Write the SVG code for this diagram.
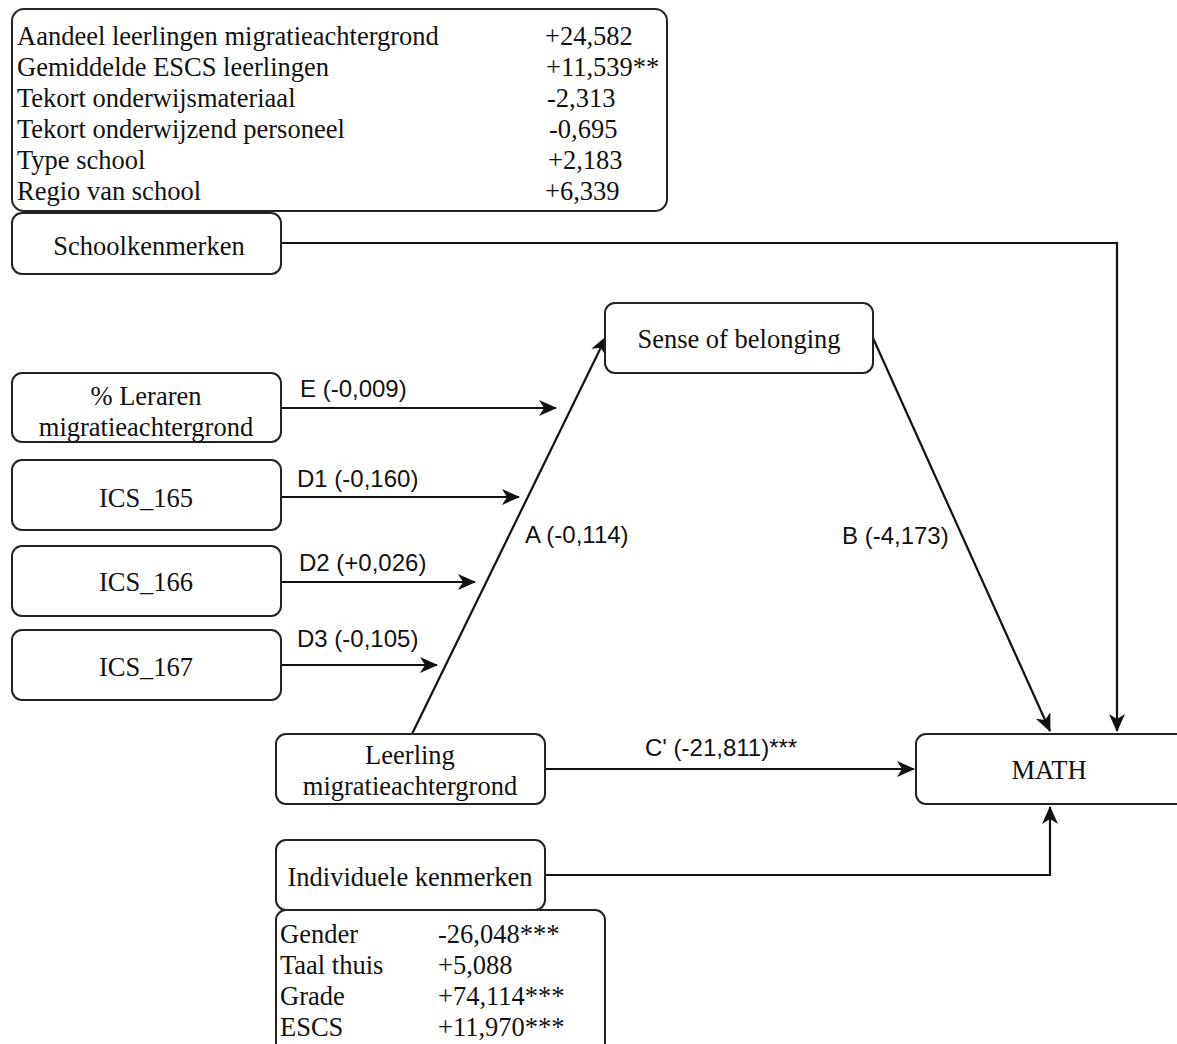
<svg xmlns="http://www.w3.org/2000/svg" width="1177" height="1044" viewBox="0 0 1177 1044">
<style>
.box{fill:#fff;stroke:#222;stroke-width:2}
.s{font-family:"Liberation Serif","Times New Roman",serif;font-size:26.5px;fill:#111}
.c{text-anchor:middle}
.l{font-family:"Liberation Sans",Arial,sans-serif;font-size:24px;fill:#111}
.e{fill:none;stroke:#111;stroke-width:2.2}
</style>
<defs>
<marker id="ah" markerUnits="userSpaceOnUse" markerWidth="22" markerHeight="20" refX="17" refY="8" orient="auto">
<path d="M0,0 L18,8 L0,16 L5,8 z" fill="#111"/>
</marker>
</defs>
<rect width="1177" height="1044" fill="#fff"/>
<g id="connectors">
<path class="e" d="M281,243 H1117 V731" marker-end="url(#ah)"/>
<path class="e" d="M281,408 H556" marker-end="url(#ah)"/>
<path class="e" d="M281,497 H519" marker-end="url(#ah)"/>
<path class="e" d="M281,582 H475" marker-end="url(#ah)"/>
<path class="e" d="M281,665 H437" marker-end="url(#ah)"/>
<path class="e" d="M412,734 L606,337" marker-end="url(#ah)"/>
<path class="e" d="M873,338 L1050,731" marker-end="url(#ah)"/>
<path class="e" d="M545,769 H914" marker-end="url(#ah)"/>
<path class="e" d="M545,875 H1050 V807" marker-end="url(#ah)"/>
<text class="l" x="300" y="397">E (-0,009)</text>
<text class="l" x="297" y="487">D1 (-0,160)</text>
<text class="l" x="299" y="571">D2 (+0,026)</text>
<text class="l" x="297" y="647">D3 (-0,105)</text>
<text class="l" x="525" y="543">A (-0,114)</text>
<text class="l" x="842" y="544">B (-4,173)</text>
<text class="l" x="645" y="756">C' (-21,811)***</text>
</g>
<g id="schoolvars">
<rect class="box" x="12" y="9" width="655" height="202" rx="12"/>
<text class="s" x="17" y="45">Aandeel leerlingen migratieachtergrond</text>
<text class="s" x="17" y="76">Gemiddelde ESCS leerlingen</text>
<text class="s" x="17" y="107">Tekort onderwijsmateriaal</text>
<text class="s" x="17" y="138">Tekort onderwijzend personeel</text>
<text class="s" x="17" y="169">Type school</text>
<text class="s" x="17" y="200">Regio van school</text>
<text class="s" x="545" y="45">+24,582</text>
<text class="s" x="546" y="76">+11,539**</text>
<text class="s" x="547" y="107">-2,313</text>
<text class="s" x="549" y="138">-0,695</text>
<text class="s" x="548" y="169">+2,183</text>
<text class="s" x="545" y="200">+6,339</text>
</g>
<g id="schoolkenmerken">
<rect class="box" x="12" y="213" width="269" height="61" rx="10"/>
<text class="s c" x="149" y="255">Schoolkenmerken</text>
</g>
<g id="sense">
<rect class="box" x="605" y="303" width="268" height="70" rx="10"/>
<text class="s c" x="739" y="348">Sense of belonging</text>
</g>
<g id="leraren">
<rect class="box" x="12" y="373" width="269" height="69" rx="10"/>
<text class="s c" x="146" y="405">% Leraren</text>
<text class="s c" x="146" y="436">migratieachtergrond</text>
</g>
<g id="ics165">
<rect class="box" x="12" y="460" width="269" height="70" rx="10"/>
<text class="s c" x="146" y="507">ICS_165</text>
</g>
<g id="ics166">
<rect class="box" x="12" y="546" width="269" height="70" rx="10"/>
<text class="s c" x="146" y="591">ICS_166</text>
</g>
<g id="ics167">
<rect class="box" x="12" y="630" width="269" height="70" rx="10"/>
<text class="s c" x="146" y="676">ICS_167</text>
</g>
<g id="leerling">
<rect class="box" x="276" y="734" width="269" height="70" rx="10"/>
<text class="s c" x="410" y="764">Leerling</text>
<text class="s c" x="410" y="795">migratieachtergrond</text>
</g>
<g id="math">
<rect class="box" x="916" y="734" width="270" height="70" rx="10"/>
<text class="s c" x="1049" y="779">MATH</text>
</g>
<g id="individueel">
<rect class="box" x="276" y="840" width="269" height="70" rx="10"/>
<text class="s c" x="410" y="886">Individuele kenmerken</text>
</g>
<g id="indvars">
<rect class="box" x="276" y="910" width="329" height="145" rx="10"/>
<text class="s" x="280" y="943">Gender</text>
<text class="s" x="280" y="974">Taal thuis</text>
<text class="s" x="280" y="1005">Grade</text>
<text class="s" x="280" y="1036">ESCS</text>
<text class="s" x="438" y="943">-26,048***</text>
<text class="s" x="438" y="974">+5,088</text>
<text class="s" x="438" y="1005">+74,114***</text>
<text class="s" x="438" y="1036">+11,970***</text>
</g>
</svg>
